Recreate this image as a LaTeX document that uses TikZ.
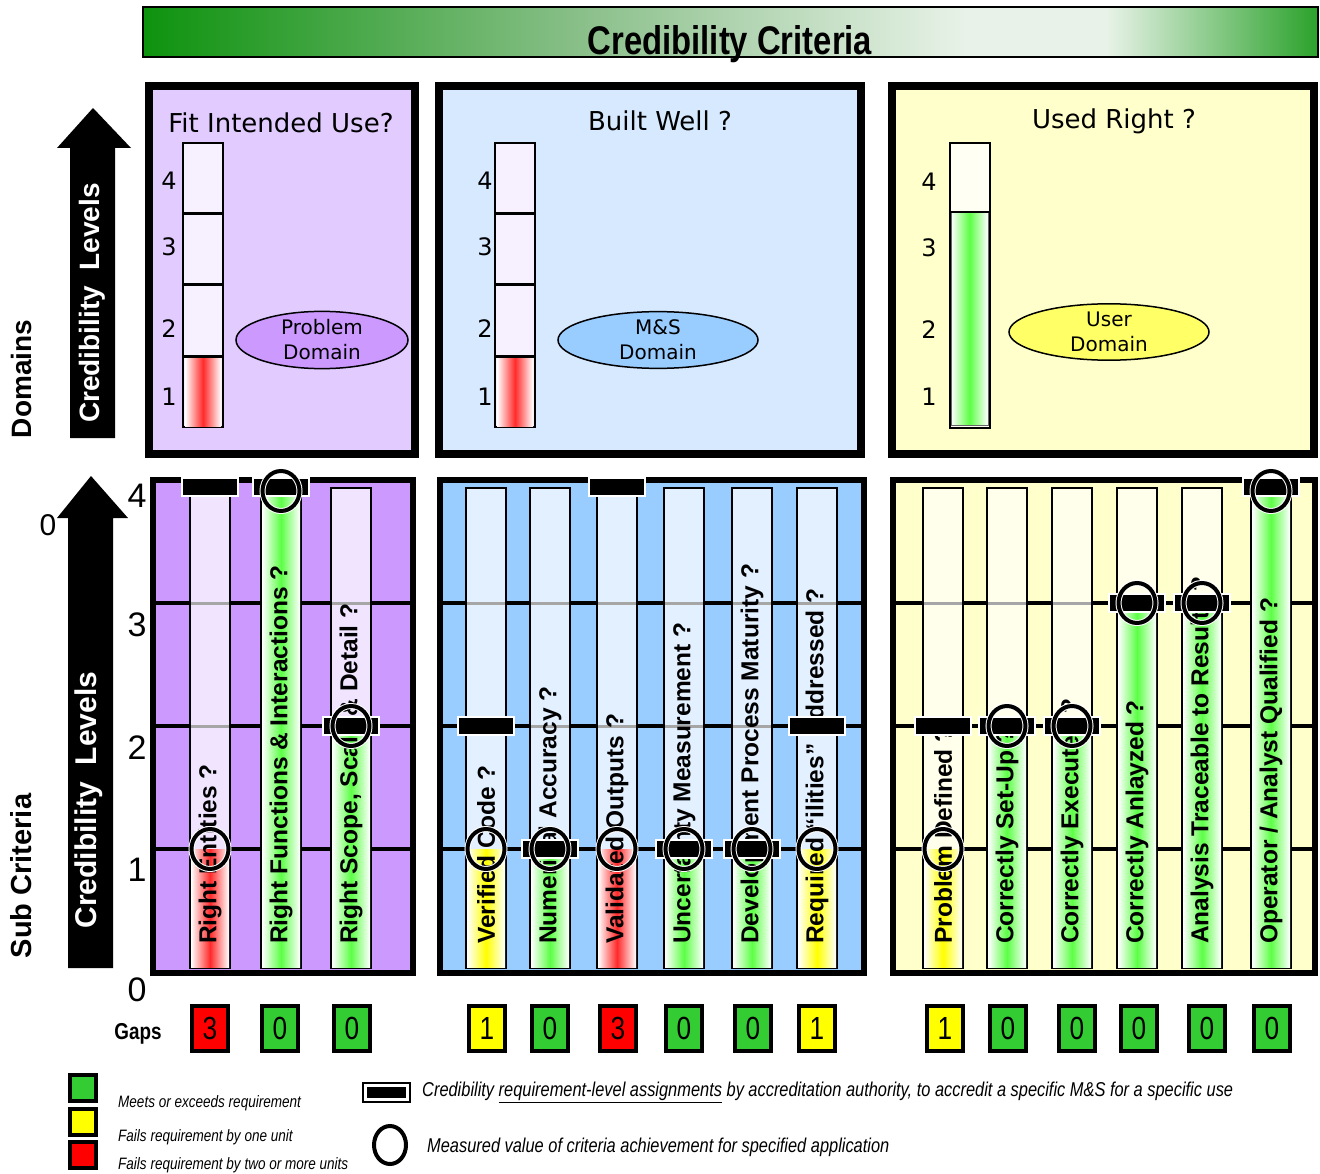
\documentclass[tikz,border=0pt]{standalone}
\usepackage{fontspec}
\setmainfont{Liberation Sans}
\newfontfamily\verdfont{DejaVu Sans}
\newfontfamily\narrowfont[FakeStretch=0.82]{Liberation Sans}
\usetikzlibrary{shapes.geometric}

% palette
\definecolor{titledark}{HTML}{0E930E}
\definecolor{titlemid}{HTML}{8CC08C}
\definecolor{titlelight}{HTML}{E8F2E8}
\definecolor{titleend}{HTML}{2BA22B}
\definecolor{domA}{HTML}{E2CCFF}
\definecolor{domB}{HTML}{D6E9FF}
\definecolor{domC}{HTML}{FFFFCC}
\definecolor{subA}{HTML}{CC99FF}
\definecolor{subB}{HTML}{99CCFF}
\definecolor{subC}{HTML}{FFFFCC}
\definecolor{barA}{HTML}{F0E4FF}
\definecolor{barB}{HTML}{E2F0FF}
\definecolor{barC}{HTML}{FFFFEC}
\definecolor{segA}{HTML}{F6F0FF}
\definecolor{segB}{HTML}{F2F8FF}
\definecolor{segC}{HTML}{FFFFF4}
\definecolor{okgreen}{HTML}{5CFF45}
\definecolor{badred}{HTML}{FF2A2A}
\definecolor{warnyellow}{HTML}{FFFF00}
\definecolor{gapgreen}{HTML}{33CC33}
\definecolor{gapred}{HTML}{FF0000}
\definecolor{gapyellow}{HTML}{FFFF00}
\definecolor{ellA}{HTML}{CC99FF}
\definecolor{ellB}{HTML}{99CCFF}
\definecolor{ellC}{HTML}{FFFF66}

\pgfdeclarehorizontalshading{titleshade}{100bp}{%
  color(0bp)=(titledark); color(25bp)=(titledark); color(44bp)=(titlemid);
  color(60bp)=(titlelight); color(66bp)=(titlelight); color(75bp)=(titleend); color(100bp)=(titleend)}

\tikzset{
  toppanel/.style={draw=black, line width=8pt},
  subpanel/.style={draw=black, line width=6pt},
  gridline/.style={draw=black, line width=4pt},
  barframe/.style={draw=black, line width=1.5pt},
  barguide/.style={draw=black!35, line width=3pt},
  critlabel/.style={rotate=90, anchor=west, inner sep=0pt,
    font=\bfseries\fontsize{24.5}{24.5}\selectfont},
  reqmark/.style={rectangle, fill=black, draw=white, line width=2pt,
    minimum width=56pt, minimum height=18pt, inner sep=0pt},
  measmark/.style={ellipse, draw=black, line width=4pt, minimum width=37pt,
    minimum height=40pt, inner sep=0pt, preaction={draw=white, line width=6pt}},
  gapbox/.style={draw=black, line width=4pt, minimum width=36pt, minimum height=45pt,
    inner sep=0pt, font=\narrowfont\fontsize{32}{32}\selectfont},
  domtitle/.style={font=\verdfont\fontsize{26}{28}\selectfont, inner sep=0pt},
  domdigit/.style={font=\verdfont\fontsize{24}{26}\selectfont, inner sep=0pt},
  domell/.style={ellipse, draw=black, line width=1.5pt, align=center, inner sep=0pt,
    font=\verdfont\fontsize{20}{25}\selectfont},
  axisdigit/.style={font=\fontsize{34}{34}\selectfont, inner sep=0pt},
  sidelabel/.style={rotate=90, inner sep=0pt, font=\bfseries\fontsize{28}{28}\selectfont},
  legsq/.style={draw=black, line width=4pt, minimum size=26pt, inner sep=0pt},
  legtext/.style={anchor=west, inner sep=0pt, font=\narrowfont\itshape\fontsize{16.5}{18}\selectfont},
  legtextb/.style={anchor=west, inner sep=0pt, font=\narrowfont\itshape\fontsize{20}{22}\selectfont},
}

% one sub-criterion column: name, x centre, measured level, required level,
% fill colour, column background, label
\newcommand\critbar[7]{%
  \pgfmathsetmacro\ymeas{{969,849,726,603,491}[#3]}%
  \pgfmathsetmacro\yreq{{969,849,726,603,487}[#4]}%
  \pgfmathsetmacro\ytop{{969,849,726,603,489}[#3]}%
  \draw[barframe, fill=#6] (#2-20,488) rectangle (#2+20,968);
  \shade[left color=white, right color=white, middle color=#5] (#2-19,\ytop) rectangle (#2+19,967);
  \foreach \k/\yk in {1/849,2/726,3/603}{\ifnum\k>#3\relax \draw[barguide] (#2-19,\yk) -- (#2+19,\yk);\fi}
  \node[critlabel] (#1) at (#2,944) {#7};
  \node[reqmark] (#1-req) at (#2,\yreq) {};
  \node[measmark] (#1-meas) at (#2,\ymeas) {};
}

\begin{document}
\begin{tikzpicture}[x=1pt, y=-1pt]
\useasboundingbox (0,0) rectangle (1320,1174);

% ---------- heading ----------
\shadedraw[shading=titleshade, draw=black, line width=1.5pt] (143,7) rectangle (1318,57);
\node[anchor=base, inner sep=0pt, font=\narrowfont\bfseries\fontsize{40}{40}\selectfont] (title) at (730,55) {Credibility Criteria};

% ---------- side arrows ----------
\fill[black] (70,438) -- (70,148) -- (57,148) -- (93,108) -- (131,148) -- (115,148) -- (115,438) -- cycle;
\node[sidelabel, text=white] (upcl) at (92,303) {Credibility\ \ Levels};
\node[sidelabel] (domlbl) at (21,379) {Domains};

\fill[black] (68,968) -- (68,518) -- (57,518) -- (91,476) -- (128,518) -- (113,518) -- (113,968) -- cycle;
\node[sidelabel, text=white, font=\bfseries\fontsize{30}{30}\selectfont] (lowcl) at (89,800) {Credibility\ \ Levels};
\node[sidelabel, font=\bfseries\fontsize{29}{29}\selectfont] (sublbl) at (21,876) {Sub Criteria};

% ---------- domain panels ----------
\draw[toppanel, fill=domA] (149,86) rectangle (415,454);
\draw[toppanel, fill=domB] (439,86) rectangle (861,454);
\draw[toppanel, fill=domC] (892,86) rectangle (1314,454);

\node[domtitle] (t1) at (281,123) {Fit Intended Use?};
\node[domtitle] (t2) at (660,121) {Built Well ?};
\node[domtitle] (t3) at (1114,121) {Used Right ?};

% domain level bars (fit, built)
\foreach \bx/\dx in {183/169, 495/485}{
  \draw[barframe, fill=segA] (\bx,143) rectangle (\bx+40,427);
  \shade[left color=white, right color=white, middle color=badred] (\bx+2,357) rectangle (\bx+38,426);
  \draw[black, line width=3pt] (\bx,214) -- (\bx+40,214) (\bx,285) -- (\bx+40,285) (\bx,356) -- (\bx+40,356);
  \node[domdigit] at (\dx,181) {4};
  \node[domdigit] at (\dx,247) {3};
  \node[domdigit] at (\dx,329) {2};
  \node[domdigit] at (\dx,397) {1};
}
% domain level bar (used)
\draw[barframe, fill=segC] (950,143) rectangle (990,428);
\shade[left color=white, right color=white, middle color=okgreen, draw=black!60, line width=1pt] (951,212) rectangle (988,425);
\draw[black, line width=2pt] (950,212) -- (990,212);
\node[domdigit] at (929,182) {4};
\node[domdigit] at (929,248) {3};
\node[domdigit] at (929,330) {2};
\node[domdigit] at (929,397) {1};

\node[domell, fill=ellA, minimum width=172pt, minimum height=55pt] (pdom) at (322,340) {Problem\\Domain};
\node[domell, fill=ellB, minimum width=200pt, minimum height=55pt] (msdom) at (658,340) {M\&S\\Domain};
\node[domell, fill=ellC, minimum width=200pt, minimum height=56pt] (udom) at (1109,332) {User\\Domain};

% ---------- sub-criteria panels ----------
\draw[subpanel, fill=subA] (153,480) rectangle (413,973);
\draw[subpanel, fill=subB] (440,480) rectangle (864,973);
\draw[subpanel, fill=subC] (893,480) rectangle (1315,973);
\foreach \yy in {603,726,849}{
  \draw[gridline] (153,\yy) -- (413,\yy);
  \draw[gridline] (440,\yy) -- (864,\yy);
  \draw[gridline] (893,\yy) -- (1315,\yy);
}

% scale
\node[axisdigit] (s4) at (137,496) {4};
\node[axisdigit] (s3) at (137,625) {3};
\node[axisdigit] (s2) at (137,748) {2};
\node[axisdigit] (s1) at (137,870) {1};
\node[axisdigit] (s0) at (137,990) {0};
\node[axisdigit, font=\fontsize{30}{30}\selectfont] (z0) at (48,525) {0};

% fit for intended use
\critbar{a1}{210}{1}{4}{badred}{barA}{Right Entities ?}
\critbar{a2}{281}{4}{4}{okgreen}{barA}{Right Functions \& Interactions ?}
\critbar{a3}{351}{2}{2}{okgreen}{barA}{Right Scope, Scale \& Detail ?}
% built well
\critbar{b1}{486}{1}{2}{warnyellow}{barB}{Verified Code ?}
\critbar{b2}{550}{1}{1}{okgreen}{barB}{Numerical Accuracy ?}
\critbar{b3}{617}{1}{4}{badred}{barB}{Validated Outputs ?}
\critbar{b4}{684}{1}{1}{okgreen}{barB}{Uncertainty Measurement ?}
\critbar{b5}{752}{1}{1}{okgreen}{barB}{Development Process Maturity ?}
\critbar{b6}{817}{1}{2}{warnyellow}{barB}{Required “ilities” Addressed ?}
% used right
\critbar{c1}{943}{1}{2}{warnyellow}{barC}{Problem Defined ?}
\critbar{c2}{1007}{2}{2}{okgreen}{barC}{Correctly Set-Up ?}
\critbar{c3}{1072}{2}{2}{okgreen}{barC}{Correctly Executed ?}
\critbar{c4}{1137}{3}{3}{okgreen}{barC}{Correctly Anlayzed ?}
\critbar{c5}{1202}{3}{3}{okgreen}{barC}{Analysis Traceable to Results ?}
\critbar{c6}{1271}{4}{4}{okgreen}{barC}{Operator / Analyst Qualified ?}

% ---------- gaps ----------
\node[inner sep=0pt, font=\narrowfont\bfseries\fontsize{23}{23}\selectfont] (gaps) at (138,1034) {Gaps};
\node[gapbox, fill=gapred] (ga1) at (210,1028) {3};
\node[gapbox, fill=gapgreen] (ga2) at (280,1028) {0};
\node[gapbox, fill=gapgreen] (ga3) at (352,1028) {0};
\node[gapbox, fill=gapyellow] (gb1) at (487,1028) {1};
\node[gapbox, fill=gapgreen] (gb2) at (550,1028) {0};
\node[gapbox, fill=gapred] (gb3) at (618,1028) {3};
\node[gapbox, fill=gapgreen] (gb4) at (684,1028) {0};
\node[gapbox, fill=gapgreen] (gb5) at (753,1028) {0};
\node[gapbox, fill=gapyellow] (gb6) at (817,1028) {1};
\node[gapbox, fill=gapyellow] (gc1) at (945,1028) {1};
\node[gapbox, fill=gapgreen] (gc2) at (1008,1028) {0};
\node[gapbox, fill=gapgreen] (gc3) at (1077,1028) {0};
\node[gapbox, fill=gapgreen] (gc4) at (1139,1028) {0};
\node[gapbox, fill=gapgreen] (gc5) at (1207,1028) {0};
\node[gapbox, fill=gapgreen] (gc6) at (1272,1028) {0};

% ---------- legend ----------
\node[legsq, fill=gapgreen] (lg1) at (83,1088) {};
\node[legsq, fill=gapyellow] (lg2) at (83,1122) {};
\node[legsq, fill=gapred] (lg3) at (83,1155) {};
\node[legtext] (lt1) at (118,1103) {Meets or exceeds requirement};
\node[legtext] (lt2) at (118,1137) {Fails requirement by one unit};
\node[legtext] (lt3) at (118,1165) {Fails requirement by two or more units};

\node[draw=black, line width=2pt, fill=white, minimum width=47pt, minimum height=19pt, inner sep=0pt] (lreq) at (386,1092) {};
\node[fill=black, minimum width=39pt, minimum height=11pt, inner sep=0pt] (lreqin) at (386,1092) {};
\node[legtextb] (lt4) at (422,1092) {Credibility \underline{requirement-level assignments} by accreditation authority, to accredit a specific M\&S for a specific use};
\node[ellipse, draw=black, line width=4pt, minimum width=32pt, minimum height=38pt, inner sep=0pt] (lmeas) at (390,1145) {};
\node[legtextb] (lt5) at (427,1147) {Measured value of criteria achievement for specified application};
\end{tikzpicture}
\end{document}
